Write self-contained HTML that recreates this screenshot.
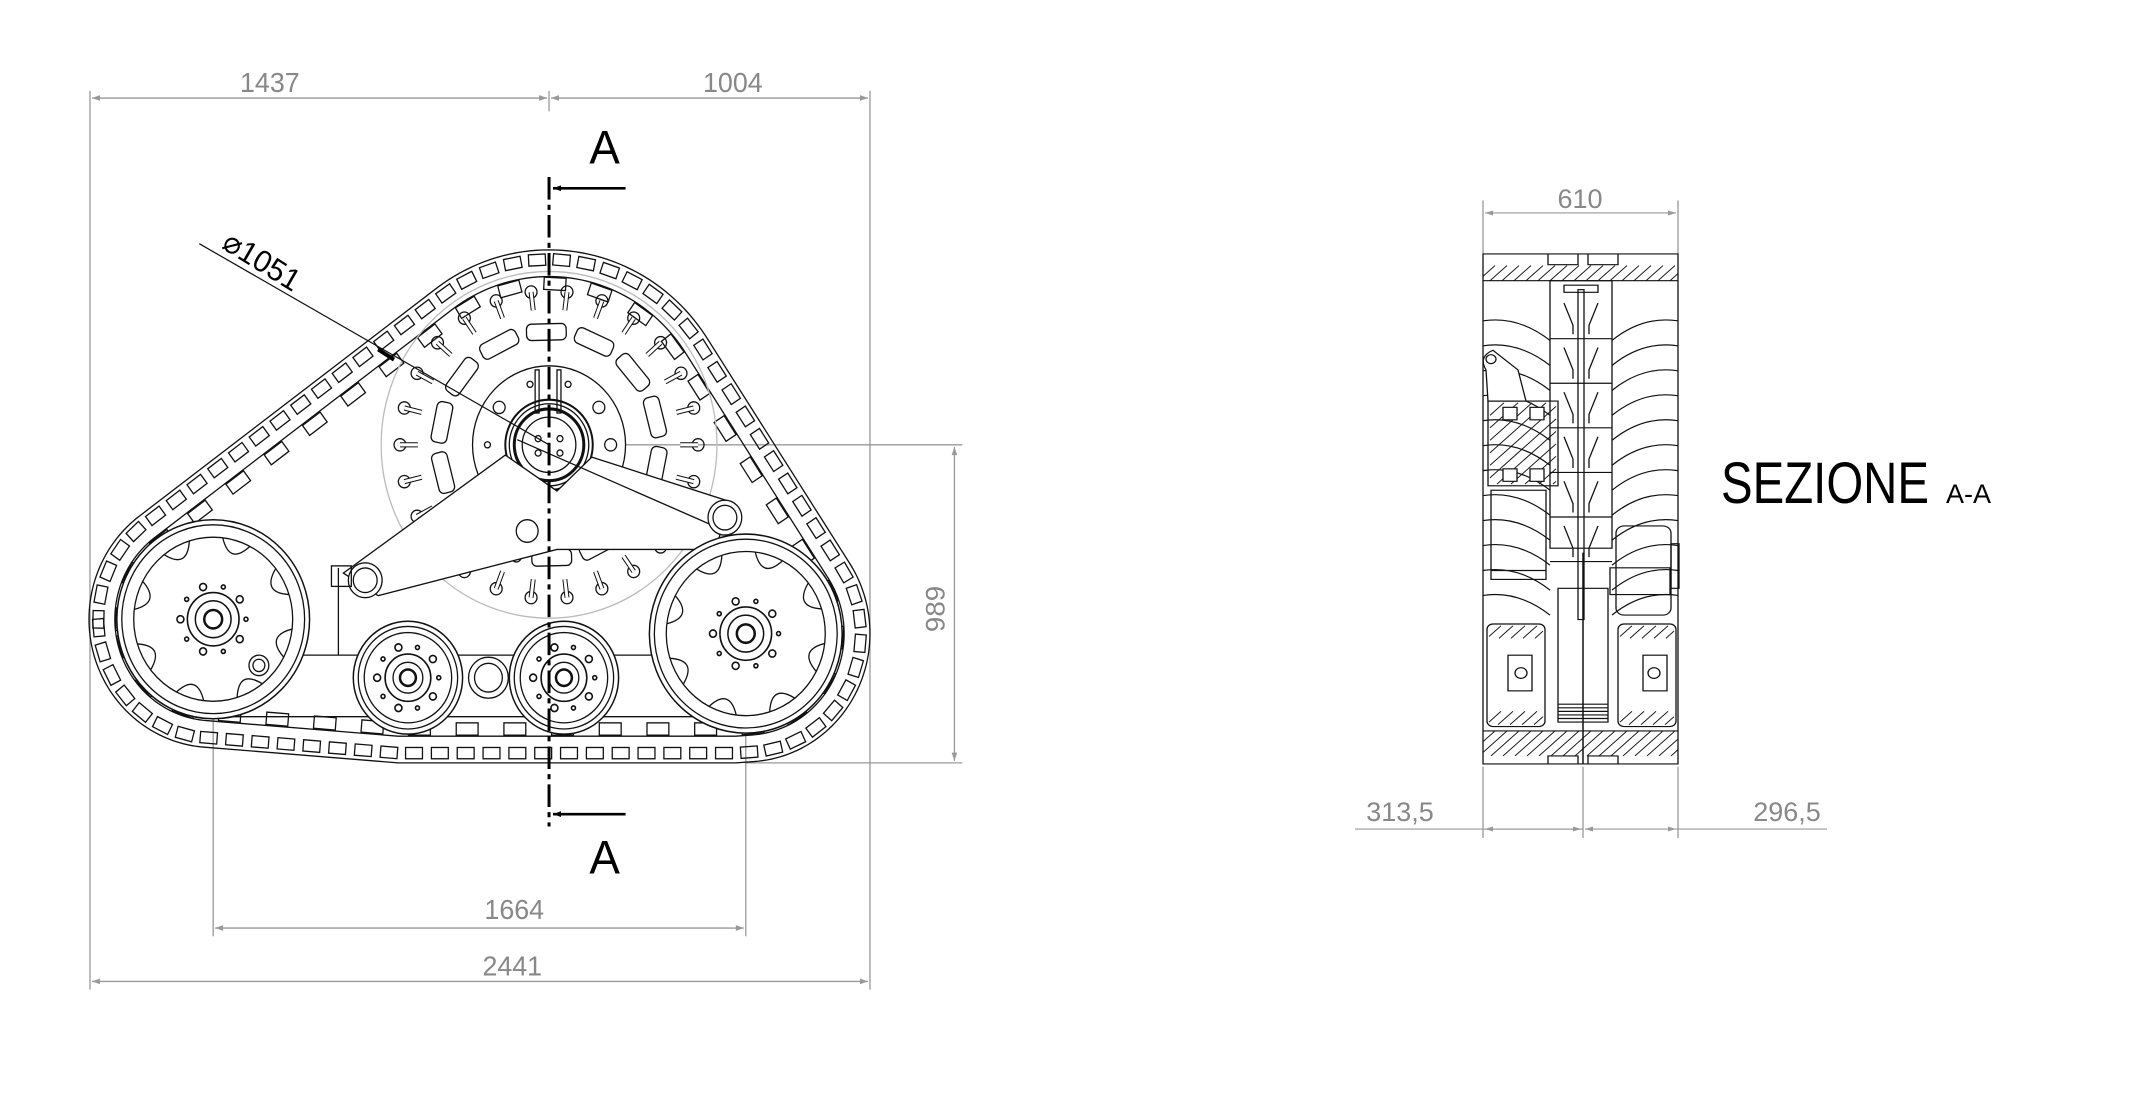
<!DOCTYPE html>
<html><head><meta charset="utf-8"><style>
html,body{margin:0;padding:0;background:#fff;}
svg{display:block;}
text{font-family:"Liberation Sans",sans-serif;}
</style></head><body>
<svg id="s" width="2132" height="1098" viewBox="0 0 2132 1098" xmlns="http://www.w3.org/2000/svg">
<defs>
<marker id="ag" viewBox="0 0 10 10" refX="10" refY="5" markerWidth="16" markerHeight="8" markerUnits="userSpaceOnUse" orient="auto-start-reverse"><path d="M0,1.5 L10,5 L0,8.5 Z" fill="#999"/></marker>
<marker id="ab" viewBox="0 0 10 10" refX="10" refY="5" markerWidth="16" markerHeight="8" markerUnits="userSpaceOnUse" orient="auto"><path d="M0,1.5 L10,5 L0,8.5 Z" fill="#000"/></marker>
</defs>
<g transform="matrix(0.9936,0,0,1.026,0.57,-1.5)">
<g stroke="#999" stroke-width="1.3" fill="none">
<line x1="90" y1="90" x2="90" y2="966"/>
<line x1="875" y1="90" x2="875" y2="966"/>
<line x1="552" y1="90" x2="552" y2="110"/>
<line x1="214" y1="605" x2="214" y2="914"/>
<line x1="750" y1="619" x2="750" y2="914"/>
<line x1="560" y1="435" x2="968" y2="435"/>
<line x1="750" y1="745" x2="968" y2="745"/>
<line x1="92" y1="97" x2="550" y2="97" marker-start="url(#ag)" marker-end="url(#ag)"/>
<line x1="554" y1="97" x2="873" y2="97" marker-start="url(#ag)" marker-end="url(#ag)"/>
<line x1="92" y1="958" x2="873" y2="958" marker-start="url(#ag)" marker-end="url(#ag)"/>
<line x1="216" y1="906" x2="748" y2="906" marker-start="url(#ag)" marker-end="url(#ag)"/>
<line x1="960" y1="437" x2="960" y2="743" marker-start="url(#ag)" marker-end="url(#ag)"/>
</g>
<g fill="#888" font-size="27">
<text x="271" y="91" text-anchor="middle">1437</text>
<text x="737" y="91" text-anchor="middle">1004</text>
<text x="517" y="897" text-anchor="middle">1664</text>
<text x="515" y="952" text-anchor="middle">2441</text>
<text x="0" y="0" text-anchor="middle" transform="translate(950,595) rotate(-90)">989</text>
</g>
<g fill="#000">
<text x="263" y="266" font-size="30" text-anchor="middle" transform="rotate(31 263 256)">⌀1051</text>
<text x="608" y="161" font-size="46" text-anchor="middle">A</text>
<text x="608" y="853" font-size="46" text-anchor="middle">A</text>
</g>
<g stroke="#000" stroke-width="2.5">
<line x1="629" y1="185" x2="556" y2="185" marker-end="url(#ab)"/>
<line x1="629" y1="795" x2="556" y2="795" marker-end="url(#ab)"/>
</g>
<g id="drw" fill="none" stroke="#111" stroke-width="1.3"></g>
<line x1="552" y1="174" x2="552" y2="807" stroke="#000" stroke-width="3" stroke-dasharray="22,5,5,5"/>
<line x1="200" y1="239" x2="552" y2="435" stroke="#111" stroke-width="1.2"/>
<line x1="380" y1="342" x2="396" y2="352" stroke="#000" stroke-width="4"/>
</g>
<g fill="#888" font-size="27">
<text x="1580" y="208" text-anchor="middle">610</text>
<text x="1400" y="821" text-anchor="middle">313,5</text>
<text x="1787" y="821" text-anchor="middle">296,5</text>
</g>
<g fill="#000">
<text x="1721" y="503" font-size="58" textLength="208" lengthAdjust="spacingAndGlyphs">SEZIONE</text>
<text x="1946" y="503" font-size="27">A-A</text>
</g>
<g transform="matrix(1,0,0,0.8916,-2,17.7)">
<g stroke="#999" stroke-width="1.3" fill="none">
<line x1="1485" y1="205" x2="1485" y2="265"/>
<line x1="1680" y1="205" x2="1680" y2="265"/>
<line x1="1487" y1="219" x2="1678" y2="219" marker-start="url(#ag)" marker-end="url(#ag)"/>
<line x1="1485" y1="840" x2="1485" y2="920"/>
<line x1="1680" y1="840" x2="1680" y2="920"/>
<line x1="1585" y1="840" x2="1585" y2="920"/>
<line x1="1357" y1="910" x2="1585" y2="910"/>
<line x1="1487" y1="910" x2="1583" y2="910" marker-start="url(#ag)" marker-end="url(#ag)"/>
<line x1="1587" y1="910" x2="1678" y2="910" marker-start="url(#ag)" marker-end="url(#ag)"/>
<line x1="1678" y1="910" x2="1829" y2="910"/>
</g>
<g id="sec" fill="none" stroke="#111" stroke-width="1.3"></g>
</g>
</svg>
<script>
const NS="http://www.w3.org/2000/svg";
const D=document.getElementById('drw'), S=document.getElementById('sec');
function el(p,t,a){const e=document.createElementNS(NS,t);for(const k in a)e.setAttribute(k,a[k]);p.appendChild(e);return e;}
function C(p,x,y,r,a){return el(p,'circle',Object.assign({cx:x,cy:y,r:r},a||{}));}
function L(p,x1,y1,x2,y2,a){return el(p,'line',Object.assign({x1,y1,x2,y2},a||{}));}
function hull(pts){pts.sort((a,b)=>a[0]-b[0]||a[1]-b[1]);const cr=(o,a,b)=>(a[0]-o[0])*(b[1]-o[1])-(a[1]-o[1])*(b[0]-o[0]);const lo=[],up=[];for(const p of pts){while(lo.length>=2&&cr(lo[lo.length-2],lo[lo.length-1],p)<=0)lo.pop();lo.push(p);}for(const p of pts.slice().reverse()){while(up.length>=2&&cr(up[up.length-2],up[up.length-1],p)<=0)up.pop();up.push(p);}up.pop();lo.pop();return lo.concat(up);}
const circ=[[214,605,125],[750,619,125],[552,435,190]];
function trackHull(d){const pts=[];for(const c of circ){for(let i=0;i<180;i++){const a=i/180*Math.PI*2;pts.push([c[0]+(c[2]-d)*Math.cos(a),c[1]+(c[2]-d)*Math.sin(a)]);}}pts.push([400,745-d],[740,745-d]);return hull(pts);}
function poly(h){return h.map(p=>p.join(',')).join(' ');}
const H0=trackHull(0),H2=trackHull(26);
el(D,'polygon',{points:poly(H0)});
el(D,'polygon',{points:poly(H2)});
function lugs(H,step,w,h,off){let per=[];let tot=0;for(let i=0;i<H.length;i++){const a=H[i],b=H[(i+1)%H.length];const l=Math.hypot(b[0]-a[0],b[1]-a[1]);per.push([a,b,l,tot]);tot+=l;}
 for(let s=0;s<tot;s+=step){const seg=per.find(q=>s>=q[3]&&s<q[3]+q[2]);if(!seg)continue;const t=(s-seg[3])/seg[2];const x=seg[0][0]+t*(seg[1][0]-seg[0][0]),y=seg[0][1]+t*(seg[1][1]-seg[0][1]);const ang=Math.atan2(seg[1][1]-seg[0][1],seg[1][0]-seg[0][0])*180/Math.PI;
 el(D,'rect',{x:-w/2,y:off,width:w,height:h,transform:`translate(${x},${y}) rotate(${ang})`});}}
lugs(H0,26,17,11,4);
lugs(H2,48,22,12,1);
C(D,552,435,169,{stroke:'#bbb'});
for(let i=0;i<26;i++){const a=i/26*Math.PI*2;const x=552+150*Math.cos(a),y=435+150*Math.sin(a);C(D,x,y,6);const x2=552+132*Math.cos(a),y2=435+132*Math.sin(a);L(D,x,y,x2,y2,{'stroke-width':5,stroke:'#111'});L(D,x,y,x2,y2,{'stroke-width':3,stroke:'#fff'});}
for(let i=0;i<14;i++){const a=i/14*Math.PI*2+0.2;el(D,'rect',{x:-8,y:-20,width:16,height:40,rx:5,transform:`translate(${552+110*Math.cos(a)},${435+110*Math.sin(a)}) rotate(${a*180/Math.PI})`});}
C(D,552,435,77,{fill:'#fff'});
for(let i=0;i<10;i++){const a=i/10*Math.PI*2;C(D,552+62*Math.cos(a),435+62*Math.sin(a),i%3?3:6);}
C(D,552,435,44,{fill:'#fff','stroke-width':2});C(D,552,435,40);C(D,552,435,35,{'stroke-width':3});C(D,552,435,27);
for(const [dx,dy] of [[-11,-6],[11,-6],[-11,8],[11,8]])C(D,552+dx,435+dy,3);
el(D,'rect',{x:538,y:362,width:4,height:42});el(D,'rect',{x:560,y:362,width:4,height:42});
el(D,'polygon',{points:'508,445 345,560 380,582 560,537 720,537 733,490 595,447 560,480',fill:'#fff'});
L(D,520,430,720,515);
C(D,367,567,17,{fill:'#fff'});C(D,367,567,12);
C(D,729,506,17,{fill:'#fff'});C(D,729,506,12);
C(D,530,519,11);
L(D,340,555,340,640);L(D,214,640,750,640);L(D,214,700,750,700);
el(D,'rect',{x:333,y:553,width:20,height:20});
function bigWheel(x,y){C(D,x,y,97,{fill:'#fff','stroke-width':1.5});C(D,x,y,92);C(D,x,y,80);
 for(let i=0;i<8;i++){const a=i/8*Math.PI*2+0.3;el(D,'path',{d:`M${x+80*Math.cos(a-0.18)},${y+80*Math.sin(a-0.18)} Q${x+55*Math.cos(a)},${y+55*Math.sin(a)} ${x+80*Math.cos(a+0.18)},${y+80*Math.sin(a+0.18)}`});}
 C(D,x,y,26,{'stroke-width':1.6});C(D,x,y,18,{'stroke-width':1.5});C(D,x,y,9,{'stroke-width':2.5});
 for(let i=0;i<10;i++){const a=i/10*Math.PI*2;C(D,x+33*Math.cos(a),y+33*Math.sin(a),i%2?3.5:2,{'stroke-width':1.6});}}
bigWheel(214,605);bigWheel(750,619);
C(D,260,650,10);C(D,260,650,6);
function roller(x,y){C(D,x,y,55,{fill:'#fff','stroke-width':1.5});C(D,x,y,50);C(D,x,y,44);
 C(D,x,y,23,{'stroke-width':1.6});C(D,x,y,15);C(D,x,y,8,{'stroke-width':2.5});
 for(let i=0;i<10;i++){const a=i/10*Math.PI*2;C(D,x+31*Math.cos(a),y+31*Math.sin(a),i%2?3.5:2,{'stroke-width':1.6});}}
roller(410,662);roller(567,662);
C(D,491,662,20,{fill:'#fff'});C(D,491,662,14);
const X0=1485,X1=1680;
el(S,'path',{d:`M${X0},265 L${X0},837 L${X1},837 L${X1},265 Z`});
L(S,X0,295,X1,295);L(S,X0,800,X1,800);
el(S,'path',{d:`M1550,265 L1550,277 L1580,277 L1580,265 M1590,265 L1590,277 L1620,277 L1620,265`});
el(S,'path',{d:`M1550,837 L1550,828 L1580,828 L1580,837 M1590,837 L1590,828 L1620,828 L1620,837`});
function hatch(x,y,w,h,sp){for(let k=-h;k<w;k+=sp){let x1=x+k,y1=y+h,x2=x+k+h,y2=y;if(x1<x){y1=y+h-(x-x1);x1=x;}if(x2>x+w){y2=y+(x2-(x+w));x2=x+w;}if(y1>y2)L(S,x1,y1,x2,y2,{'stroke-width':1});}}
hatch(X0,278,X1-X0,17,12);hatch(X0,800,X1-X0,28,12);
el(S,'rect',{x:1552,y:295,width:62,height:300});
el(S,'rect',{x:1580,y:305,width:6,height:370});
el(S,'rect',{x:1566,y:300,width:34,height:8});
for(let k=0;k<6;k++){const y=320+k*50;el(S,'path',{d:`M1566,${y} L1575,${y+25} L1575,${y+35} M1600,${y} L1591,${y+25} L1591,${y+35}`});L(S,1552,y+40,1614,y+40);}
for(let k=0;k<12;k++){const y=340+k*28;el(S,'path',{d:`M${X0},${y} Q1520,${y-6} 1552,${y+22}`});el(S,'path',{d:`M${X1},${y} Q1645,${y-6} 1614,${y+22}`});}
el(S,'rect',{x:1490,y:430,width:70,height:95});
hatch(1492,432,66,91,14);
el(S,'rect',{x:1505,y:437,width:14,height:14,fill:'#fff'});el(S,'rect',{x:1532,y:437,width:14,height:14,fill:'#fff'});
el(S,'rect',{x:1505,y:506,width:14,height:14,fill:'#fff'});el(S,'rect',{x:1532,y:506,width:14,height:14,fill:'#fff'});
el(S,'path',{d:'M1488,395 Q1480,380 1495,373 L1520,395 L1528,430 L1490,430 Z',fill:'#fff'});C(S,1493,383,5);
el(S,'rect',{x:1493,y:530,width:55,height:100});L(S,1493,620,1548,620);
el(S,'rect',{x:1618,y:570,width:55,height:100,rx:8});el(S,'rect',{x:1673,y:590,width:8,height:50});
el(S,'rect',{x:1612,y:617,width:60,height:30});
el(S,'rect',{x:1489,y:680,width:58,height:115,rx:6});hatch(1491,682,54,14,12);hatch(1491,778,54,15,12);
el(S,'rect',{x:1620,y:680,width:58,height:115,rx:6});hatch(1622,682,54,14,12);hatch(1622,778,54,15,12);
el(S,'rect',{x:1510,y:715,width:24,height:40});el(S,'rect',{x:1645,y:715,width:24,height:40});
C(S,1523,735,6);C(S,1656,735,6);
el(S,'rect',{x:1560,y:640,width:50,height:150});
for(let k=0;k<5;k++)L(S,1560,770+k*4,1610,770+k*4);
L(S,1585,600,1585,837,{'stroke-width':1.5});
</script>
</body></html>
